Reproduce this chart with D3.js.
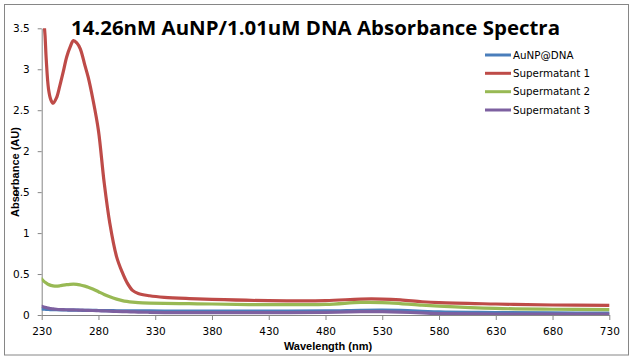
<!DOCTYPE html>
<html>
<head>
<meta charset="utf-8">
<script src="https://cdn.jsdelivr.net/npm/d3@7/dist/d3.min.js"></script>
<style>
  html, body { margin: 0; padding: 0; background: #fff; }
  svg { display: block; }
</style>
</head>
<body>
<script>
const title = "14.26nM AuNP/1.01uM DNA Absorbance Spectra";
const xTitle = "Wavelength (nm)";
const yTitle = "Absorbance (AU)";
const seriesNames = ["AuNP@DNA", "Supermatant 1", "Supermatant 2", "Supermatant 3"];
const seriesColors = ["#4A7EBB", "#BE4B48", "#98B954", "#7D60A0"];
const xTicks = [230, 280, 330, 380, 430, 480, 530, 580, 630, 680, 730];
const yTicks = [0, 0.5, 1, 1.5, 2, 2.5, 3, 3.5];

const wavelength = [230, 232, 233, 234, 236, 238, 240, 243, 246, 249, 252, 255, 258, 261, 264, 268, 271, 275, 280, 285,
                    290, 296, 301, 305, 310, 315, 325, 338, 360, 380, 430, 480, 511, 530, 546, 565, 580, 630, 680, 730];
const auNPDNA = [0.075, 0.072, 0.07, 0.069, 0.067, 0.066, 0.065, 0.064, 0.063, 0.062, 0.061, 0.06, 0.06, 0.059, 0.058, 0.057, 0.056, 0.056, 0.055, 0.054,
                 0.053, 0.052, 0.051, 0.051, 0.05, 0.05, 0.05, 0.049, 0.049, 0.049, 0.049, 0.05, 0.058, 0.06, 0.056, 0.046, 0.037, 0.03, 0.025, 0.022];
const supermatant1 = [4.6, 3.6, 3.4, 3.12, 2.76, 2.63, 2.585, 2.65, 2.8, 2.97, 3.15, 3.27, 3.35, 3.32, 3.25, 3.05, 2.9, 2.64, 2.25, 1.62,
                      1.12, 0.71, 0.52, 0.4, 0.3, 0.262, 0.235, 0.216, 0.2, 0.19, 0.175, 0.175, 0.195, 0.195, 0.185, 0.162, 0.15, 0.134, 0.122, 0.118];
const supermatant2 = [0.44, 0.41, 0.4, 0.39, 0.372, 0.362, 0.356, 0.353, 0.357, 0.364, 0.37, 0.374, 0.376, 0.374, 0.366, 0.352, 0.34, 0.317, 0.284, 0.251,
                      0.222, 0.194, 0.176, 0.166, 0.157, 0.151, 0.146, 0.143, 0.138, 0.134, 0.126, 0.13, 0.153, 0.152, 0.14, 0.12, 0.108, 0.08, 0.07, 0.066];
const supermatant3 = [0.105, 0.097, 0.093, 0.09, 0.084, 0.078, 0.074, 0.07, 0.067, 0.065, 0.064, 0.063, 0.062, 0.061, 0.06, 0.058, 0.057, 0.055, 0.052, 0.05,
                      0.047, 0.044, 0.042, 0.04, 0.038, 0.036, 0.033, 0.03, 0.03, 0.03, 0.03, 0.032, 0.04, 0.04, 0.035, 0.025, 0.018, 0.012, 0.01, 0.01];

const seriesValues = [auNPDNA, supermatant1, supermatant2, supermatant3];

const W = 633, H = 359;
const svg = d3.select("body").append("svg").attr("width", W).attr("height", H);

// chart border
svg.append("rect").attr("x", 4.5).attr("y", 4.5).attr("width", 624).attr("height", 350.5)
  .attr("fill", "#fff").attr("stroke", "#868686").attr("stroke-width", 1);

const x = d3.scaleLinear().domain([230, 730]).range([41.7, 609.3]);
const y = d3.scaleLinear().domain([0, 3.5]).range([315, 28.3]);

// clip
svg.append("defs").append("clipPath").attr("id", "plotclip")
  .append("rect").attr("x", x(230)).attr("y", y(3.5)).attr("width", x(730) - x(230)).attr("height", y(0) - y(3.5));

const axisColor = "#868686";
const tickFont = "'DejaVu Sans', Verdana, sans-serif";

// x axis
const xAxis = svg.append("g").attr("transform", `translate(0,${y(0)})`)
  .call(d3.axisBottom(x).tickValues(xTicks).tickSize(5).tickSizeOuter(0).tickPadding(8).tickFormat(d3.format("d")));
xAxis.selectAll("path, line").attr("stroke", axisColor);
xAxis.selectAll("text").attr("fill", "#000").style("font-family", tickFont).style("font-size", "10.5px");

// y axis
const yAxis = svg.append("g").attr("transform", `translate(${x(230)},0)`)
  .call(d3.axisLeft(y).tickValues(yTicks).tickSize(4).tickSizeOuter(0).tickPadding(8).tickFormat(d => d));
yAxis.selectAll("path, line").attr("stroke", axisColor);
yAxis.selectAll("text").attr("fill", "#000").style("font-family", tickFont).style("font-size", "10.5px");

// lines
const plot = svg.append("g").attr("clip-path", "url(#plotclip)");
const line = d3.line().x(d => x(d[0])).y(d => y(d[1])).curve(d3.curveCatmullRom.alpha(0.5));
seriesValues.forEach((vals, i) => {
  plot.append("path")
    .datum(wavelength.map((w, j) => [w, vals[j]]))
    .attr("fill", "none")
    .attr("stroke", seriesColors[i])
    .attr("stroke-width", 3.2)
    .attr("stroke-linejoin", "round")
    .attr("stroke-linecap", "round")
    .attr("d", line);
});

// title
svg.append("text").attr("x", 315.5).attr("y", 35).attr("text-anchor", "middle")
  .attr("textLength", 489).attr("lengthAdjust", "spacingAndGlyphs")
  .style("font-family", "'Open Sans', 'Liberation Sans', sans-serif").style("font-weight", "700").style("font-size", "20px")
  .attr("fill", "#000").text(title);

// axis titles
svg.append("text").attr("x", 328).attr("y", 350).attr("text-anchor", "middle")
  .style("font-family", "'Liberation Sans', Arial, sans-serif").style("font-weight", "700").style("font-size", "11px")
  .attr("fill", "#000").text(xTitle);
svg.append("text").attr("transform", "translate(18.5,172) rotate(-90)").attr("text-anchor", "middle")
  .style("font-family", "'Liberation Sans', Arial, sans-serif").style("font-weight", "700").style("font-size", "11px")
  .attr("fill", "#000").text(yTitle);

// legend
const legendRows = [55, 73.3, 91.7, 110];
const legend = svg.append("g");
seriesNames.forEach((name, i) => {
  legend.append("line").attr("x1", 485).attr("x2", 511).attr("y1", legendRows[i]).attr("y2", legendRows[i])
    .attr("stroke", seriesColors[i]).attr("stroke-width", 3);
  legend.append("text").attr("x", 513).attr("y", legendRows[i]).attr("dy", "0.36em")
    .style("font-family", tickFont).style("font-size", "10.3px").attr("fill", "#000").text(name);
});
</script>
</body>
</html>
